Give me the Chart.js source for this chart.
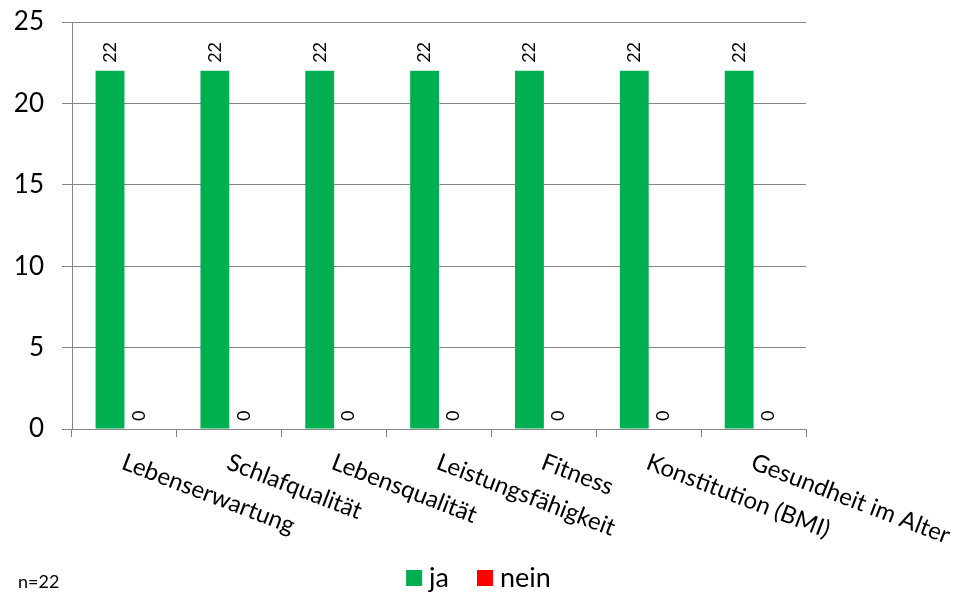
<!DOCTYPE html>
<html>
<head>
<meta charset="utf-8">
<script src="https://cdn.jsdelivr.net/npm/chart.js@4.4.0/dist/chart.umd.min.js"></script>
<style>
  body { margin: 0; background: #fff; }
  #wrap { width: 957px; height: 594px; }
</style>
</head>
<body>
<div id="wrap"><canvas id="chart"></canvas></div>
<script>
const categories = ['Lebenserwartung', 'Schlafqualität', 'Lebensqualität', 'Leistungsfähigkeit', 'Fitness', 'Konstitution (BMI)', 'Gesundheit im Alter'];
const jaValues = [22, 22, 22, 22, 22, 22, 22];
const neinValues = [0, 0, 0, 0, 0, 0, 0];
const yTicks = [0, 5, 10, 15, 20, 25];
const sampleNote = 'n=22';

const fontName = 'Lato, "Open Sans", sans-serif';
const gridColor = '#868686';

// value labels, rotated like in the original
const valueLabels = {
    id: 'valueLabels',
    afterDatasetsDraw(chart) {
        const ctx = chart.ctx;
        ctx.save();
        ctx.font = '18px ' + fontName;
        ctx.fillStyle = '#000';
        ctx.textAlign = 'left';
        ctx.textBaseline = 'middle';
        chart.data.datasets.forEach((ds, d) => {
            chart.getDatasetMeta(d).data.forEach((bar, i) => {
                ctx.save();
                ctx.translate(bar.x, bar.y - 8);
                ctx.rotate(-Math.PI / 2);
                ctx.fillText(String(ds.data[i]), 0, 0);
                ctx.restore();
            });
        });
        ctx.restore();
    }
};

// slanted category labels, n note and the legend
const extras = {
    id: 'extras',
    afterDraw(chart) {
        const ctx = chart.ctx;
        const xs = chart.scales.x;
        ctx.save();
        ctx.font = '24px ' + fontName;
        ctx.fillStyle = '#000';
        ctx.textAlign = 'left';
        ctx.textBaseline = 'top';
        chart.data.labels.forEach((lab, i) => {
            ctx.save();
            ctx.translate(xs.getPixelForValue(i) + 3, 450);
            ctx.rotate(21 * Math.PI / 180);
            ctx.fillText(lab, 0, 0);
            ctx.restore();
        });

        ctx.font = '18px ' + fontName;
        ctx.textBaseline = 'middle';
        ctx.fillText(sampleNote, 18, 582);

        // legend
        ctx.font = '27px ' + fontName;
        const box = 16, gap = 7, between = 28, cy = 578;
        const items = chart.data.datasets.map(ds => ({ text: ds.label, color: ds.backgroundColor, w: ctx.measureText(ds.label).width }));
        let total = 0;
        items.forEach((it, i) => { total += box + gap + it.w + (i ? between : 0); });
        let x = chart.width / 2 - total / 2;
        items.forEach((it, i) => {
            if (i) x += between;
            ctx.fillStyle = it.color;
            ctx.fillRect(x, cy - box / 2, box, box);
            x += box + gap;
            ctx.fillStyle = '#000';
            ctx.fillText(it.text, x, cy);
            x += it.w;
        });
        ctx.restore();
    }
};

new Chart(document.getElementById('chart'), {
    type: 'bar',
    data: {
        labels: categories,
        datasets: [
            { label: 'ja', data: jaValues, backgroundColor: '#00B050' },
            { label: 'nein', data: neinValues, backgroundColor: '#FF0000' }
        ]
    },
    options: {
        responsive: true,
        maintainAspectRatio: false,
        animation: false,
        datasets: { bar: { categoryPercentage: 0.55, barPercentage: 1.0 } },
        layout: { padding: { top: 22, left: 0, right: 0, bottom: 0 } },
        plugins: {
            tooltip: { enabled: false },
            legend: { display: false }
        },
        scales: {
            x: {
                grid: { offset: true, drawOnChartArea: false, color: gridColor, tickLength: 8 },
                border: { color: gridColor },
                ticks: { display: false },
                afterFit: s => { s.height = 165; s.paddingLeft = 0; s.paddingRight = 0; }
            },
            y: {
                min: 0,
                max: 25,
                afterBuildTicks: s => { s.ticks = yTicks.map(v => ({ value: v })); },
                grid: { color: gridColor, tickLength: 10 },
                border: { color: gridColor },
                ticks: { font: { family: fontName, size: 26 }, color: '#000', padding: 18 },
                afterFit: s => { s.width = 72; s.paddingTop = 0; s.paddingBottom = 0; }
            },
            y2: {
                position: 'right',
                grid: { display: false },
                border: { display: false },
                ticks: { display: false },
                afterFit: s => { s.width = 151; s.paddingTop = 0; s.paddingBottom = 0; }
            }
        }
    },
    plugins: [valueLabels, extras]
});
</script>
</body>
</html>
